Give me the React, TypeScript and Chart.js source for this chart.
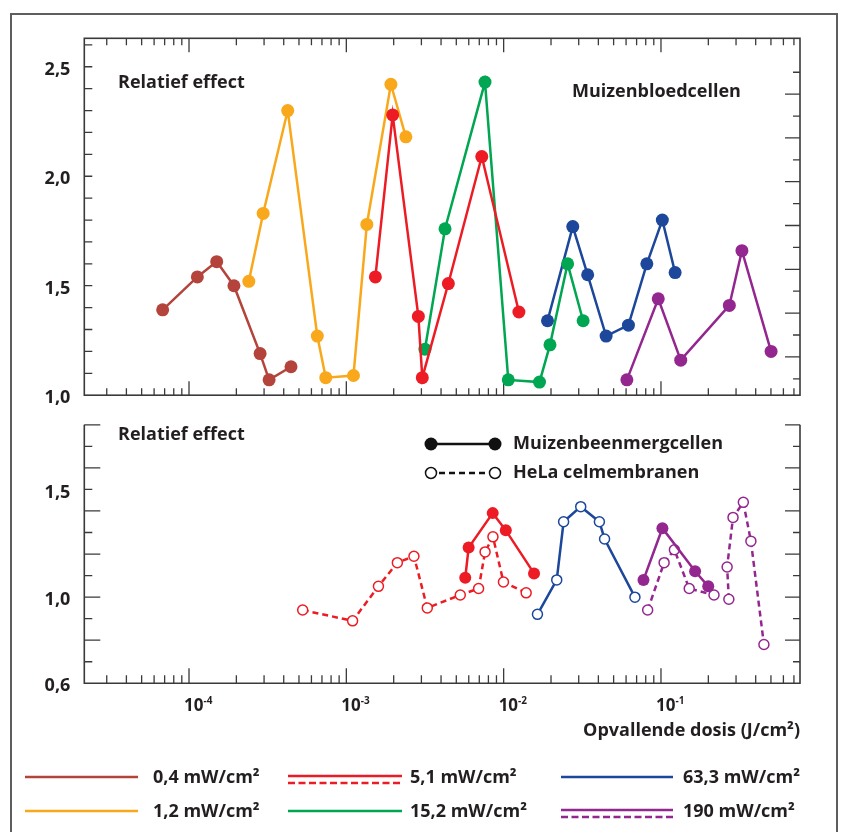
import React, { useEffect, useRef } from 'react';
import { Chart, registerables } from 'chart.js';
Chart.register(...registerables);

// ---------- axis ranges ----------
const X_MIN = 2.16e-5;
const X_MAX = 0.765;
const Y_TOP_MIN = 1.0;
const Y_TOP_MAX = 2.63;
const Y_BOT_MIN = 0.6;
const Y_BOT_MAX = 1.8;

// ---------- tick labels ----------
const yTopLabels = [1.0, 1.5, 2.0, 2.5];
const yBotLabels = [0.6, 1.0, 1.5];
const xDecadeValues = [1e-4, 1e-3, 1e-2, 1e-1];
const xDecadeExponents = ['-4', '-3', '-2', '-1'];

// ---------- top panel: Muizenbloedcellen ----------
const blood04X = [6.8e-5, 1.13e-4, 1.5e-4, 1.93e-4, 2.83e-4, 3.23e-4, 4.45e-4];
const blood04Y = [1.39, 1.54, 1.61, 1.5, 1.19, 1.07, 1.13];
const blood12X = [2.4e-4, 2.96e-4, 4.24e-4, 6.54e-4, 7.4e-4, 1.11e-3, 1.35e-3, 1.92e-3, 2.39e-3];
const blood12Y = [1.52, 1.83, 2.3, 1.27, 1.08, 1.09, 1.78, 2.42, 2.18];
const blood51X = [1.53e-3, 1.97e-3, 2.87e-3, 3.04e-3, 4.45e-3, 7.26e-3, 1.25e-2];
const blood51Y = [1.54, 2.28, 1.36, 1.08, 1.51, 2.09, 1.38];
const blood152X = [3.16e-3, 4.24e-3, 7.61e-3, 1.07e-2, 1.69e-2, 1.97e-2, 2.55e-2, 3.2e-2];
const blood152Y = [1.21, 1.76, 2.43, 1.07, 1.06, 1.23, 1.6, 1.34];
const blood633X = [1.9e-2, 2.75e-2, 3.42e-2, 4.48e-2, 6.21e-2, 8.13e-2, 0.102, 0.123];
const blood633Y = [1.34, 1.77, 1.55, 1.27, 1.32, 1.6, 1.8, 1.56];
const blood190X = [6.07e-2, 9.61e-2, 0.1335, 0.272, 0.327, 0.501];
const blood190Y = [1.07, 1.44, 1.16, 1.41, 1.66, 1.2];

// ---------- bottom panel ----------
const hela51X = [5.28e-4, 1.096e-3, 1.6e-3, 2.11e-3, 2.69e-3, 3.27e-3, 5.3e-3, 6.93e-3, 7.62e-3, 8.55e-3, 9.97e-3, 1.39e-2];
const hela51Y = [0.94, 0.89, 1.05, 1.16, 1.19, 0.95, 1.01, 1.04, 1.21, 1.28, 1.07, 1.02];
const marrow51X = [5.7e-3, 5.99e-3, 8.52e-3, 1.032e-2, 1.56e-2];
const marrow51Y = [1.09, 1.23, 1.39, 1.31, 1.11];
const hela633X = [1.64e-2, 2.175e-2, 2.405e-2, 3.09e-2, 4.06e-2, 4.38e-2, 6.83e-2];
const hela633Y = [0.92, 1.08, 1.35, 1.42, 1.35, 1.27, 1.0];
const marrow190X = [7.74e-2, 0.1021, 0.1648, 0.1997];
const marrow190Y = [1.08, 1.32, 1.12, 1.05];
const hela190aX = [8.23e-2, 0.1047, 0.1217, 0.1512, 0.2173];
const hela190aY = [0.94, 1.16, 1.22, 1.04, 1.01];
const hela190bX = [0.27, 0.2633, 0.287, 0.3338, 0.3729, 0.4512];
const hela190bY = [0.99, 1.14, 1.37, 1.44, 1.26, 0.78];

// ---------- legend ----------
const legendLabels = ['0,4 mW/cm²', '1,2 mW/cm²', '5,1 mW/cm²', '15,2 mW/cm²', '63,3 mW/cm²', '190 mW/cm²'];

const C_BROWN = '#b4443b';
const C_ORANGE = '#f9a81b';
const C_RED = '#ed1c24';
const C_GREEN = '#00a651';
const C_BLUE = '#1c479b';
const C_PURPLE = '#93278f';
const legendColors = [C_BROWN, C_ORANGE, C_RED, C_GREEN, C_BLUE, C_PURPLE];
const legendDouble = [false, false, true, false, false, true];

const INK = '#231f20';
const AXIS = '#3a3a3a';
const FONT = '"Open Sans", "Noto Sans", sans-serif';

const pts = (xs: number[], ys: number[]) => xs.map((x, i) => ({ x, y: ys[i] }));

function filledSet(xs: number[], ys: number[], color: string, r = 6.5) {
  return {
    data: pts(xs, ys),
    borderColor: color,
    backgroundColor: color,
    borderWidth: 2.5,
    pointRadius: r,
    pointBorderWidth: 0,
    pointBackgroundColor: color,
    pointBorderColor: color,
    tension: 0,
  };
}
function openSet(xs: number[], ys: number[], color: string, dashed: boolean) {
  return {
    data: pts(xs, ys),
    borderColor: color,
    backgroundColor: '#fff',
    borderWidth: 2.5,
    borderDash: dashed ? [6, 4] : [],
    pointRadius: 5,
    pointBorderWidth: 1.5,
    pointBackgroundColor: '#fff',
    pointBorderColor: color,
    tension: 0,
  };
}

function logTicks(min: number, max: number) {
  const out: { v: number; major: boolean }[] = [];
  for (let e = -6; e <= 1; e++) {
    for (let m = 1; m <= 9; m++) {
      const v = m * Math.pow(10, e);
      if (v > min * 1.001 && v < max * 0.999) out.push({ v, major: m === 1 });
    }
  }
  return out;
}

function range(a: number, b: number, step: number) {
  const out: number[] = [];
  for (let v = a; v <= b + 1e-9; v += step) out.push(Math.round(v * 1000) / 1000);
  return out;
}

const boldFont = (s: number) => `bold ${s}px ${FONT}`;

function drawText(ctx: CanvasRenderingContext2D, t: string, x: number, y: number, size = 18, align: CanvasTextAlign = 'left') {
  ctx.font = boldFont(size);
  ctx.fillStyle = INK;
  ctx.textAlign = align;
  ctx.textBaseline = 'middle';
  ctx.fillText(t, x, y);
}

const commonScales = (ymin: number, ymax: number, labels: number[]) => ({
  x: { type: 'logarithmic', min: X_MIN, max: X_MAX, display: false },
  y: {
    type: 'linear',
    min: ymin,
    max: ymax,
    afterBuildTicks: (s: any) => {
      s.ticks = labels.map((v) => ({ value: v }));
    },
    afterFit: (s: any) => {
      s.width = 84.3;
    },
    grid: { display: false, drawTicks: false },
    border: { display: false },
    ticks: {
      padding: 14,
      labelOffset: 3,
      color: INK,
      autoSkip: false,
      font: { family: FONT, size: 18, weight: 'bold' },
      callback: (v: any) => Number(v).toFixed(1).replace('.', ','),
    },
  },
});

const topDecor = {
  id: 'topDecor',
  beforeDatasetsDraw(chart: any) {
    const { ctx, chartArea: a, scales } = chart;
    const x = scales.x;
    const y = scales.y;
    ctx.save();
    ctx.strokeStyle = AXIS;
    ctx.lineWidth = 1.6;
    ctx.strokeRect(a.left, a.top, a.right - a.left, a.bottom - a.top);
    ctx.lineWidth = 1.3;
    ctx.beginPath();
    for (const t of logTicks(X_MIN, X_MAX)) {
      const px = x.getPixelForValue(t.v);
      const len = t.major ? 14 : 7;
      ctx.moveTo(px, a.top);
      ctx.lineTo(px, a.top + len);
      ctx.moveTo(px, a.bottom);
      ctx.lineTo(px, a.bottom - len);
    }
    for (const v of range(1.1, 2.6, 0.1)) {
      const py = y.getPixelForValue(v);
      ctx.moveTo(a.left, py);
      ctx.lineTo(a.left + 8, py);
    }
    range(1.075, 2.475, 0.1).forEach((v, i) => {
      const py = y.getPixelForValue(v);
      const len = i % 2 === 1 ? 15 : 7;
      ctx.moveTo(a.right, py);
      ctx.lineTo(a.right - len, py);
    });
    ctx.stroke();
    ctx.restore();
  },
  afterDraw(chart: any) {
    const { ctx } = chart;
    ctx.save();
    drawText(ctx, 'Relatief effect', 118, 83);
    drawText(ctx, 'Muizenbloedcellen', 572, 92);
    ctx.restore();
  },
};

const BOT_OFF = 400;

const botDecor = {
  id: 'botDecor',
  beforeDatasetsDraw(chart: any) {
    const { ctx, chartArea: a, scales } = chart;
    const x = scales.x;
    const y = scales.y;
    ctx.save();
    ctx.strokeStyle = AXIS;
    ctx.lineWidth = 1.6;
    ctx.beginPath();
    ctx.moveTo(a.left, a.top);
    ctx.lineTo(a.left, a.bottom);
    ctx.lineTo(a.right, a.bottom);
    ctx.lineTo(a.right, a.top);
    ctx.stroke();
    ctx.lineWidth = 1.3;
    ctx.beginPath();
    for (const t of logTicks(X_MIN, X_MAX)) {
      const px = x.getPixelForValue(t.v);
      const len = t.major ? 15 : 8;
      ctx.moveTo(px, a.bottom);
      ctx.lineTo(px, a.bottom - len);
    }
    range(0.7, 1.8, 0.1).forEach((v) => {
      const py = y.getPixelForValue(v);
      const even = Math.round(v * 10) % 2 === 0;
      const len = even ? 16 : 8;
      ctx.moveTo(a.left, py);
      ctx.lineTo(a.left + len, py);
      ctx.moveTo(a.right, py);
      ctx.lineTo(a.right - (even ? 15 : 7), py);
    });
    ctx.stroke();
    ctx.restore();
  },
  afterDraw(chart: any) {
    const { ctx, chartArea: a, scales } = chart;
    const x = scales.x;
    ctx.save();
    // x tick labels with superscript exponents
    xDecadeValues.forEach((v, i) => {
      const px = x.getPixelForValue(v);
      ctx.font = boldFont(17);
      ctx.fillStyle = INK;
      ctx.textAlign = 'left';
      ctx.textBaseline = 'middle';
      const left = px - 5;
      ctx.fillText('10', left, 706 - BOT_OFF);
      const w = ctx.measureText('10').width;
      ctx.font = boldFont(10);
      ctx.fillText(xDecadeExponents[i], left + w, 701 - BOT_OFF);
    });
    drawText(ctx, 'Opvallende dosis (J/cm²)', a.right, 731 - BOT_OFF, 18, 'right');
    drawText(ctx, 'Relatief effect', 118, 435 - BOT_OFF);

    // in-panel legend
    const lx0 = 431;
    const lx1 = 495;
    ctx.strokeStyle = '#111';
    ctx.fillStyle = '#111';
    ctx.lineWidth = 2.5;
    ctx.setLineDash([]);
    ctx.beginPath();
    ctx.moveTo(lx0, 444 - BOT_OFF);
    ctx.lineTo(lx1, 444 - BOT_OFF);
    ctx.stroke();
    for (const cx of [lx0, lx1]) {
      ctx.beginPath();
      ctx.arc(cx, 444 - BOT_OFF, 6.5, 0, Math.PI * 2);
      ctx.fill();
    }
    ctx.lineWidth = 2.5;
    ctx.setLineDash([6, 4]);
    ctx.beginPath();
    ctx.moveTo(lx0 + 8, 473 - BOT_OFF);
    ctx.lineTo(lx1 - 6, 473 - BOT_OFF);
    ctx.stroke();
    ctx.setLineDash([]);
    ctx.lineWidth = 1.5;
    for (const cx of [lx0, lx1]) {
      ctx.beginPath();
      ctx.arc(cx, 473 - BOT_OFF, 5.5, 0, Math.PI * 2);
      ctx.fillStyle = '#fff';
      ctx.fill();
      ctx.stroke();
    }
    drawText(ctx, 'Muizenbeenmergcellen', 513, 444 - BOT_OFF);
    drawText(ctx, 'HeLa celmembranen', 513, 473 - BOT_OFF);

    // bottom legend
    const colX = [[25, 138, 153], [288, 402, 410], [561, 673, 683]];
    const rowY = [777, 811];
    legendLabels.forEach((lab, i) => {
      const col = Math.floor(i / 2);
      const row = i % 2;
      const [x0, x1, tx] = colX[col];
      const yy = rowY[row] - BOT_OFF;
      ctx.strokeStyle = legendColors[i];
      ctx.lineWidth = 2.6;
      if (legendDouble[i]) {
        ctx.setLineDash([]);
        ctx.beginPath();
        ctx.moveTo(x0, yy - 1);
        ctx.lineTo(x1, yy - 1);
        ctx.stroke();
        ctx.setLineDash([7, 3.5]);
        ctx.beginPath();
        ctx.moveTo(x0, yy + 6);
        ctx.lineTo(x1, yy + 6);
        ctx.stroke();
        ctx.setLineDash([]);
      } else {
        ctx.beginPath();
        ctx.moveTo(x0, yy);
        ctx.lineTo(x1, yy);
        ctx.stroke();
      }
      drawText(ctx, lab, tx, yy + 1);
    });
    ctx.restore();
  },
};

function topConfig(): any {
  return {
    type: 'line',
    data: {
      datasets: [
        filledSet(blood51X, blood51Y, C_RED),
        filledSet(blood152X, blood152Y, C_GREEN),
        filledSet(blood12X, blood12Y, C_ORANGE),
        filledSet(blood633X, blood633Y, C_BLUE),
        filledSet(blood04X, blood04Y, C_BROWN),
        filledSet(blood190X, blood190Y, C_PURPLE),
      ],
    },
    options: {
      responsive: false,
      maintainAspectRatio: false,
      animation: false,
      events: [],
      layout: { padding: { left: 0, top: 38.3, right: 43, bottom: 20.7 } },
      scales: commonScales(Y_TOP_MIN, Y_TOP_MAX, yTopLabels),
      plugins: { legend: { display: false }, tooltip: { enabled: false } },
    },
    plugins: [topDecor],
  };
}

function botConfig(): any {
  return {
    type: 'line',
    data: {
      datasets: [
        filledSet(marrow51X, marrow51Y, C_RED, 6),
        filledSet(marrow190X, marrow190Y, C_PURPLE, 6),
        openSet(hela51X, hela51Y, C_RED, true),
        openSet(hela633X, hela633Y, C_BLUE, false),
        openSet(hela190aX, hela190aY, C_PURPLE, true),
        openSet(hela190bX, hela190bY, C_PURPLE, true),
      ],
    },
    options: {
      responsive: false,
      maintainAspectRatio: false,
      animation: false,
      events: [],
      layout: { padding: { left: 0, top: 14, right: 43, bottom: 148.7 } },
      scales: commonScales(Y_BOT_MIN, Y_BOT_MAX, yBotLabels),
      plugins: { legend: { display: false }, tooltip: { enabled: false } },
    },
    plugins: [botDecor],
  };
}

export default function App() {
  const topRef = useRef<HTMLCanvasElement>(null);
  const botRef = useRef<HTMLCanvasElement>(null);
  useEffect(() => {
    const c1 = new Chart(topRef.current as HTMLCanvasElement, topConfig());
    const c2 = new Chart(botRef.current as HTMLCanvasElement, botConfig());
    return () => {
      c1.destroy();
      c2.destroy();
    };
  }, []);
  return (
    <div style={{ position: 'absolute', left: 0, top: 0, width: 843, height: 832, overflow: 'hidden', background: '#fff' }}>
      <div
        style={{
          position: 'absolute',
          left: 10,
          top: 13,
          width: 828,
          height: 860,
          border: '2px solid #5e5e5e',
          boxSizing: 'border-box',
        }}
      />
      <canvas ref={topRef} width={843} height={420} style={{ position: 'absolute', left: 0, top: 0, width: 843, height: 420 }} />
      <canvas ref={botRef} width={843} height={432} style={{ position: 'absolute', left: 0, top: 400, width: 843, height: 432 }} />
    </div>
  );
}
